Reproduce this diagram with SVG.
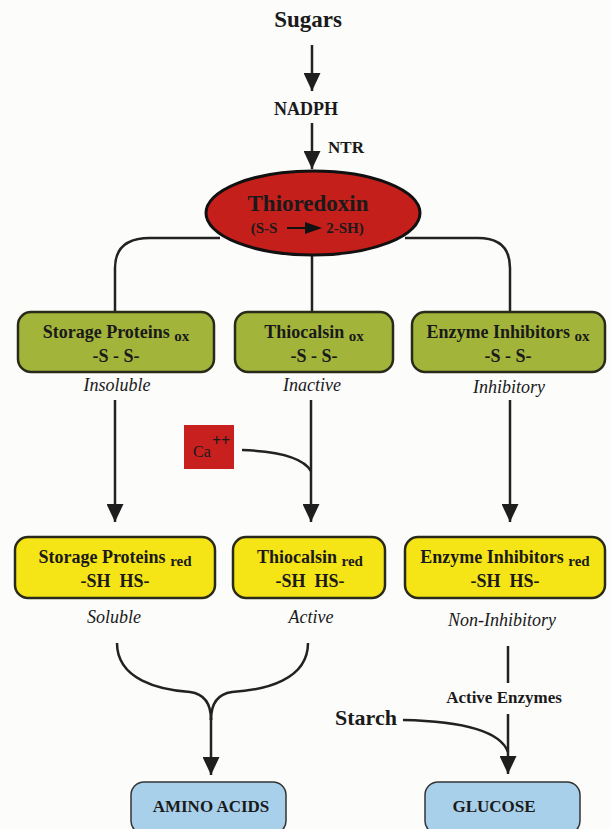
<svg xmlns="http://www.w3.org/2000/svg" width="610" height="829" viewBox="0 0 610 829">
<defs>
<marker id="ah" viewBox="0 0 18 17" refX="18" refY="8.5" markerWidth="18" markerHeight="17" markerUnits="userSpaceOnUse" orient="auto">
<path d="M0,0 L18,8.5 L0,17 z" fill="#1e1e1e"/>
</marker>
<style>
text{font-family:"Liberation Serif","DejaVu Serif",serif;fill:#1a1a1a;text-anchor:middle}
.b{font-weight:bold}
.t{font-weight:bold;font-size:18px}
.sub{font-size:15px}
.i{font-style:italic;font-size:18px}
.ln{fill:none;stroke:#222;stroke-width:2.5}
.ar{fill:none;stroke:#222;stroke-width:2.5;marker-end:url(#ah)}
.g{fill:#a2b53a;stroke:#2a2a1a;stroke-width:2.5}
.y{fill:#f6e516;stroke:#2a2a1a;stroke-width:2.5}
.bl{fill:#a9d0ea;stroke:#333;stroke-width:1.5}
</style>
</defs>
<rect width="610" height="829" fill="#fcfcfa"/>

<g id="connectors">
<line class="ar" x1="312" y1="45" x2="312" y2="91"/>
<line class="ar" x1="312" y1="123" x2="312" y2="169"/>
<path class="ln" d="M220,238 L150,238 Q115,238 115,268 L115,313"/>
<line class="ln" x1="312" y1="250" x2="312" y2="313"/>
<path class="ln" d="M405,238 L478,238 Q510,238 510,268 L510,313"/>
<line class="ar" x1="115" y1="400" x2="115" y2="522"/>
<line class="ar" x1="311" y1="400" x2="311" y2="522"/>
<line class="ar" x1="510" y1="400" x2="510" y2="522"/>
<path class="ln" d="M242,450 Q300,452 311,471"/>
<path class="ln" d="M117,643 C117,680 160,690 190,692 C205,694 211,705 211,720"/>
<path class="ln" d="M308,643 C308,680 265,690 232,692 C217,694 211,705 211,720"/>
<line class="ar" x1="211" y1="718" x2="211" y2="775"/>
<line class="ln" x1="508" y1="646" x2="508" y2="683"/>
<line class="ar" x1="508" y1="714" x2="508" y2="774"/>
<path class="ln" d="M403,720 Q497,722 508,752"/>
</g>

<g id="sugars"><text class="b" x="308" y="27" font-size="23">Sugars</text></g>
<g id="nadph"><text class="b" x="306" y="115" font-size="18">NADPH</text></g>
<g id="ntr"><text class="b" x="346" y="153" font-size="17">NTR</text></g>

<g id="thioredoxin">
<ellipse cx="313" cy="213" rx="107" ry="42" fill="#c51f1c" stroke="#111" stroke-width="3"/>
<text class="b" x="308" y="211" font-size="23">Thioredoxin</text>
<text class="b" x="264" y="233" font-size="15">(S-S</text>
<line x1="287" y1="228" x2="310" y2="228" stroke="#111" stroke-width="2"/>
<path d="M305,222 L322,228 L305,234 z" fill="#111"/>
<text class="b" x="345" y="233" font-size="15">2-SH)</text>
</g>

<g id="storage-ox">
<rect class="g" x="18" y="312" width="196" height="60" rx="13"/>
<text class="t" x="116" y="338">Storage Proteins <tspan class="sub" dy="3">ox</tspan></text>
<text class="t" x="116" y="362">-S - S-</text>
<text class="i" x="117" y="391">Insoluble</text>
</g>
<g id="thiocalsin-ox">
<rect class="g" x="235" y="312" width="158" height="60" rx="13"/>
<text class="t" x="314" y="338">Thiocalsin <tspan class="sub" dy="3">ox</tspan></text>
<text class="t" x="314" y="362">-S - S-</text>
<text class="i" x="312" y="391">Inactive</text>
</g>
<g id="inhibitors-ox">
<rect class="g" x="412" y="312" width="193" height="60" rx="13"/>
<text class="t" x="508" y="338">Enzyme Inhibitors <tspan class="sub" dy="3">ox</tspan></text>
<text class="t" x="508" y="362">-S - S-</text>
<text class="i" x="509" y="393">Inhibitory</text>
</g>

<g id="ca">
<rect x="184" y="425" width="50" height="44" fill="#c8201e"/>
<text x="202" y="457" font-size="16">Ca</text>
<text x="221" y="446" font-size="16" font-weight="bold">++</text>
</g>

<g id="storage-red">
<rect class="y" x="15" y="537" width="200" height="61" rx="13"/>
<text class="t" x="115" y="563">Storage Proteins <tspan class="sub" dy="3">red</tspan></text>
<text class="t" x="115" y="587">-SH&#160; HS-</text>
<text class="i" x="114" y="623">Soluble</text>
</g>
<g id="thiocalsin-red">
<rect class="y" x="233" y="537" width="152" height="61" rx="13"/>
<text class="t" x="310" y="563">Thiocalsin <tspan class="sub" dy="3">red</tspan></text>
<text class="t" x="310" y="587">-SH&#160; HS-</text>
<text class="i" x="311" y="623">Active</text>
</g>
<g id="inhibitors-red">
<rect class="y" x="405" y="537" width="200" height="61" rx="13"/>
<text class="t" x="505" y="563">Enzyme Inhibitors <tspan class="sub" dy="3">red</tspan></text>
<text class="t" x="505" y="587">-SH&#160; HS-</text>
<text class="i" x="502" y="626">Non-Inhibitory</text>
</g>

<g id="active-enzymes"><text class="b" x="504" y="703" font-size="17">Active Enzymes</text></g>
<g id="starch"><text class="b" x="366" y="725" font-size="22">Starch</text></g>

<g id="amino-acids">
<rect class="bl" x="131" y="782" width="155" height="52" rx="13"/>
<text class="b" x="211" y="812" font-size="17">AMINO ACIDS</text>
</g>
<g id="glucose">
<rect class="bl" x="425" y="782" width="155" height="52" rx="13"/>
<text class="b" x="494" y="812" font-size="17">GLUCOSE</text>
</g>
</svg>
